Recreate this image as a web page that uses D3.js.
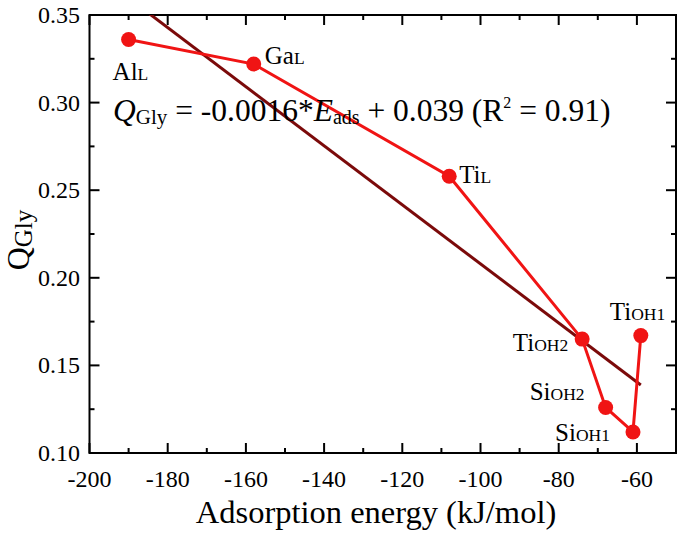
<!DOCTYPE html>
<html>
<head>
<meta charset="utf-8">
<script src="https://cdn.jsdelivr.net/npm/d3@7"></script>
<style>
  html, body { margin: 0; padding: 0; background: #fff; }
  svg { display: block; }
  svg text { font-family: "Liberation Serif", Tinos, "Times New Roman", Times, "DejaVu Serif", serif; fill: #000; }
</style>
</head>
<body>
<svg id="chart" width="685" height="537" font-family="Liberation Serif, Times New Roman, serif"></svg>
<script>
// ---- data ----
const siteNames   = ["Al", "Ga", "Ti", "Ti", "Si", "Si", "Ti"];
const siteSubs    = ["L", "L", "L", "OH2", "OH2", "OH1", "OH1"];
const adsEnergy   = [-190, -158, -108, -74, -68, -61, -59];
const qGly        = [0.336, 0.322, 0.258, 0.165, 0.126, 0.112, 0.167];
const xTicks      = [-200, -180, -160, -140, -120, -100, -80, -60];
const yTicks      = [0.10, 0.15, 0.20, 0.25, 0.30, 0.35];
const xDomain     = [-200, -50];
const yDomain     = [0.10, 0.35];

// label placement (pixel offsets from each point), style only
const labelStyle = [
  {dx: -16, dy: 40, anchor: "start"},
  {dx: 11,  dy: 0,  anchor: "start"},
  {dx: 10,  dy: 7,  anchor: "start"},
  {dx: -14, dy: 12, anchor: "end"},
  {dx: -21, dy: -7, anchor: "end"},
  {dx: -23, dy: 9,  anchor: "end"},
  {dx: -31, dy: -16, anchor: "start"}
];

const points = adsEnergy.map((x, i) => ({x, y: qGly[i], name: siteNames[i], sub: siteSubs[i], st: labelStyle[i]}));

// least-squares fit from the data
const mx = d3.mean(adsEnergy), my = d3.mean(qGly);
const slope = d3.sum(adsEnergy, (x, i) => (x - mx) * (qGly[i] - my)) / d3.sum(adsEnergy, x => (x - mx) ** 2);
const intercept = my - slope * mx;
const fitX = d3.extent(adsEnergy);
const fitLine = fitX.map(x => ({x, y: intercept + slope * x}));

// ---- layout ----
const L = 89.5, R = 676, T = 15, B = 453;
const svg = d3.select("#chart");
const x = d3.scaleLinear().domain(xDomain).range([L, R]);
const y = d3.scaleLinear().domain(yDomain).range([B, T]);

const xMinor = d3.range(xDomain[0], xDomain[1] + 0.001, 10);
const yMinor = d3.range(0, 11).map(i => yDomain[0] + i * 0.025);
const hy = s => s.replace("\u2212", "-");

svg.append("clipPath").attr("id", "clip").append("rect")
  .attr("x", L).attr("y", T).attr("width", R - L).attr("height", B - T);

// ticks (inward)
const tickG = svg.append("g").attr("stroke", "#000").attr("stroke-width", 2);
xMinor.forEach(v => {
  const major = xTicks.includes(v);
  const len = major ? 10 : 5;
  tickG.append("line").attr("x1", x(v)).attr("x2", x(v)).attr("y1", B).attr("y2", B - len);
  tickG.append("line").attr("x1", x(v)).attr("x2", x(v)).attr("y1", T).attr("y2", T + len);
});
yMinor.forEach((v, i) => {
  const major = i % 2 === 0;
  const len = major ? 10 : 5;
  tickG.append("line").attr("y1", y(v)).attr("y2", y(v)).attr("x1", L).attr("x2", L + len);
  tickG.append("line").attr("y1", y(v)).attr("y2", y(v)).attr("x1", R).attr("x2", R - len);
});

svg.append("rect").attr("x", L).attr("y", T).attr("width", R - L).attr("height", B - T)
  .attr("fill", "none").attr("stroke", "#000").attr("stroke-width", 2);

// tick labels
svg.append("g").selectAll("text").data(xTicks).join("text")
  .attr("x", d => x(d)).attr("y", 487).attr("text-anchor", "middle")
  .attr("font-size", 24).text(d => hy(d3.format("d")(d)));
svg.append("g").selectAll("text").data(yTicks).join("text")
  .attr("x", 80).attr("y", d => y(d) + 8).attr("text-anchor", "end")
  .attr("font-size", 24).text(d => d3.format(".2f")(d));

// axis titles
svg.append("text").attr("x", 376).attr("y", 523).attr("text-anchor", "middle")
  .attr("font-size", 32.5).text("Adsorption energy (kJ/mol)");
const yl = svg.append("text").attr("transform", "translate(29,240) rotate(-90)")
  .attr("text-anchor", "middle").attr("font-size", 32);
yl.append("tspan").text("Q");
yl.append("tspan").attr("font-size", 25).attr("dy", 3).text("Gly");

// fit line
const line = d3.line().x(d => x(d.x)).y(d => y(d.y));
svg.append("path").datum(fitLine).attr("d", line).attr("clip-path", "url(#clip)")
  .attr("fill", "none").attr("stroke", "#7b0a0a").attr("stroke-width", 3);

// data line + points
svg.append("path").datum(points).attr("d", line)
  .attr("fill", "none").attr("stroke", "#f01414").attr("stroke-width", 3);
svg.append("g").selectAll("circle").data(points).join("circle")
  .attr("cx", d => x(d.x)).attr("cy", d => y(d.y)).attr("r", 7.5).attr("fill", "#f01414");

// point labels
const lab = svg.append("g").selectAll("text").data(points).join("text")
  .attr("x", d => x(d.x) + d.st.dx).attr("y", d => y(d.y) + d.st.dy)
  .attr("text-anchor", d => d.st.anchor).attr("font-size", 25);
lab.append("tspan").text(d => d.name);
lab.append("tspan").attr("font-size", 17.5).text(d => d.sub);

// equation
const eq = svg.append("text").attr("x", 113).attr("y", 121).attr("font-size", 31.5);
eq.append("tspan").attr("font-style", "italic").text("Q");
eq.append("tspan").attr("font-size", 21).attr("dy", 3).text("Gly");
eq.append("tspan").attr("dy", -3).text(" = -0.0016*");
eq.append("tspan").attr("font-style", "italic").text("E");
eq.append("tspan").attr("font-size", 20).attr("dy", 3).text("ads");
eq.append("tspan").attr("dy", -3).text(" + 0.039 (R");
eq.append("tspan").attr("font-size", 16).attr("dy", -13).text("2");
eq.append("tspan").attr("dy", 13).text(" = 0.91)");
</script>
</body>
</html>
